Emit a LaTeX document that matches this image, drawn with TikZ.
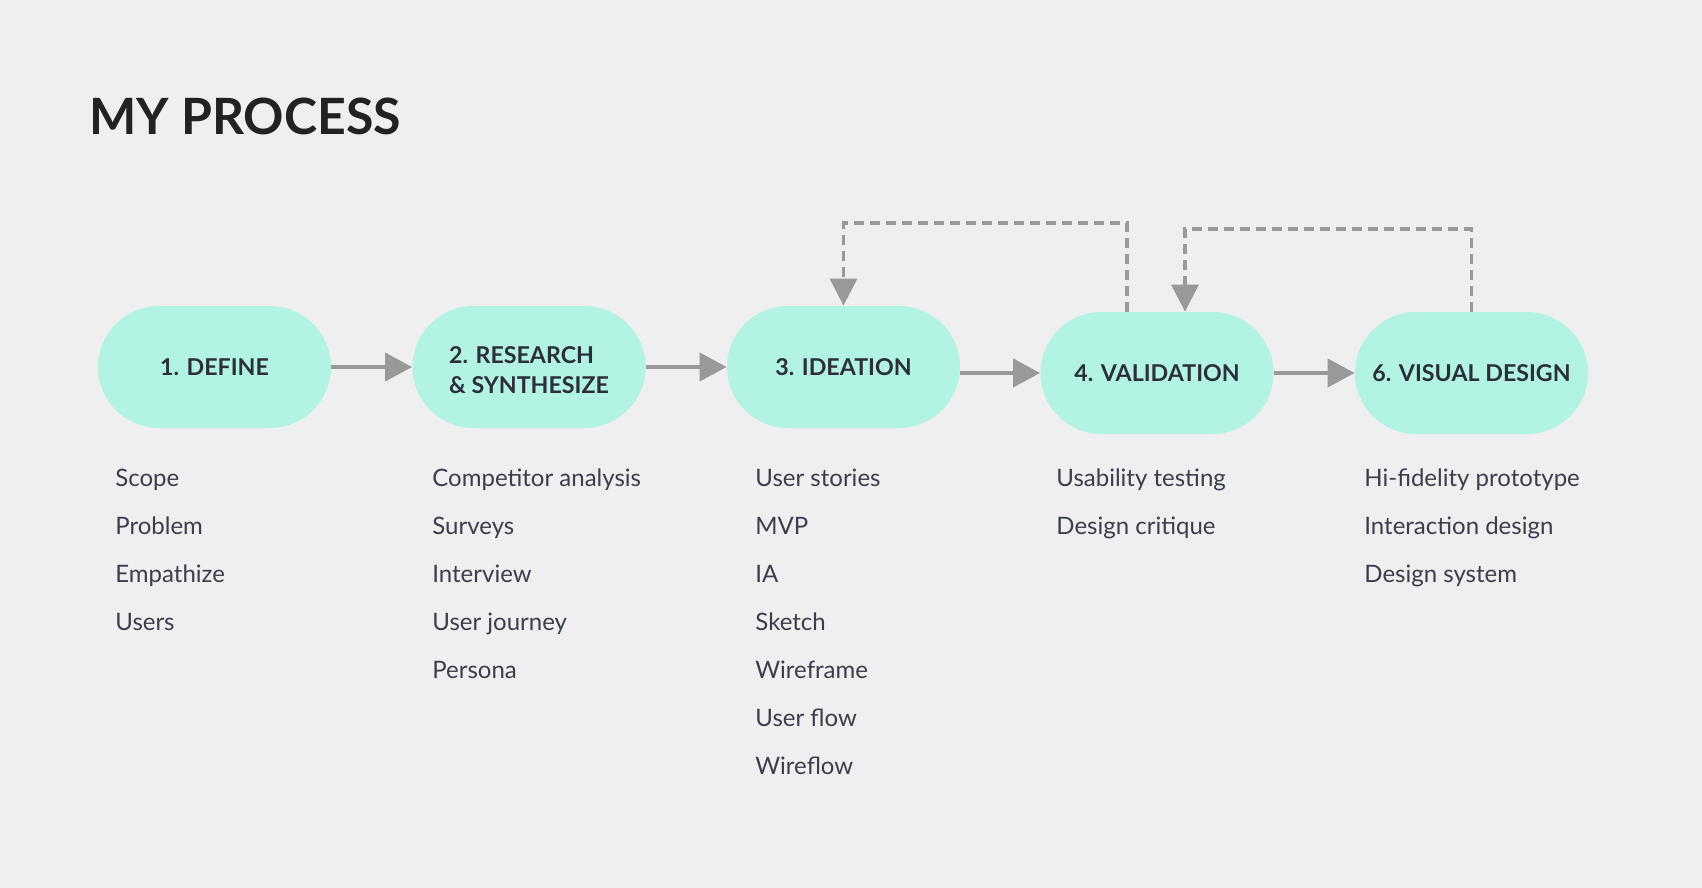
\documentclass[tikz,border=0pt]{standalone}
\usepackage{fontspec}
\setmainfont{Lato}
\usetikzlibrary{arrows.meta}
\definecolor{bgcol}{HTML}{EFEFEF}
\definecolor{stepfill}{HTML}{B3F3E4}
\definecolor{steptext}{HTML}{2B2F3B}
\definecolor{itemtext}{HTML}{3B3E4B}
\definecolor{titletext}{HTML}{222222}
\definecolor{arrowgray}{HTML}{999999}
\tikzset{
	stepbox/.style={fill=stepfill, rounded corners=30.5pt, minimum width=116.5pt, minimum height=61pt, inner sep=0pt, text=steptext, font=\fontsize{11.6}{15}\selectfont\bfseries, align=left},
	steplabel/.style={inner sep=0pt, text=steptext, font=\fontsize{11.6}{15}\selectfont\bfseries, align=left},
	item/.style={anchor=base west, inner sep=0pt, text=itemtext, font=\fontsize{12}{14}\selectfont},
	flow/.style={draw=arrowgray, line width=2pt, -{Triangle[length=13.5pt, width=14pt]}, arrowgray},
	back/.style={draw=arrowgray, line width=1.6pt, dash pattern=on 5pt off 3pt, -{Triangle[length=13.5pt, width=13.5pt]}, arrowgray}
}

\begin{document}
\begin{tikzpicture}[x=0.5pt, y=-0.5pt]
		%%%%% START %%%%%
		
		\fill[bgcol] (0, 0) rectangle (1702, 888);
		
		\node[anchor=base west, inner sep=0pt, text=titletext, font=\fontsize{25}{28}\selectfont\bfseries] (title) at (89, 134) {MY PROCESS};
		
		\node[stepbox] (define) at (214.5, 367) {1. DEFINE};
		\node[stepbox] (research) at (529, 367) {};
		\node[steplabel] (researchtext) at ([yshift=-1.6pt]research.center) {2. RESEARCH\\\& SYNTHESIZE};
		\node[stepbox] (ideation) at (843.5, 367) {3. IDEATION};
		\node[stepbox] (validation) at (1157, 373) {4. VALIDATION};
		\node[stepbox] (visual) at (1471.5, 373) {6. VISUAL DESIGN};
		
		\draw[flow] (define) -- (research);
		\draw[flow] (research) -- (ideation);
		\draw[flow] (ideation.east |- validation) -- (validation);
		\draw[flow] (validation) -- (visual);
		
		\coordinate (topA) at (843.5, 223);
		\coordinate (topB) at (1185, 229);
		\draw[back] ([xshift=-15pt]validation.north) |- (topA) -- (ideation.north);
		\draw[back] (visual.north) |- (topB) -- (topB |- validation.north);
		
		\node[item] (scope) at (115, 486) {Scope};
		\node[item] (problem) at (115, 534) {Problem};
		\node[item] (empathize) at (115, 582) {Empathize};
		\node[item] (users) at (115, 630) {Users};
		
		\node[item] (competitor) at (432, 486) {Competitor analysis};
		\node[item] (surveys) at (432, 534) {Surveys};
		\node[item] (interview) at (432, 582) {Interview};
		\node[item] (journey) at (432, 630) {User journey};
		\node[item] (persona) at (432, 678) {Persona};
		
		\node[item] (stories) at (755, 486) {User stories};
		\node[item] (mvp) at (755, 534) {MVP};
		\node[item] (ia) at (755, 582) {IA};
		\node[item] (sketch) at (755, 630) {Sketch};
		\node[item] (wireframe) at (755, 678) {Wireframe};
		\node[item] (userflow) at (755, 726) {User flow};
		\node[item] (wireflow) at (755, 774) {Wireflow};
		
		\node[item] (usability) at (1056, 486) {Usability testing};
		\node[item] (critique) at (1056, 534) {Design critique};
		
		\node[item] (hifi) at (1364, 486) {Hi-fidelity prototype};
		\node[item] (interaction) at (1364, 534) {Interaction design};
		\node[item] (system) at (1364, 582) {Design system};
		
		%%%%% END %%%%%
	\end{tikzpicture}
\end{document}
